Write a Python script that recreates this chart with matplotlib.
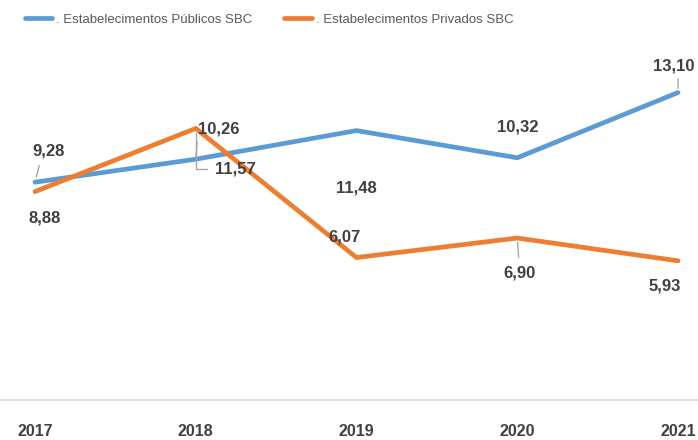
import matplotlib.pyplot as plt

years = [2017, 2018, 2019, 2020, 2021]
publicos = [9.28, 10.26, 11.48, 10.32, 13.10]
privados = [8.88, 11.57, 6.07, 6.90, 5.93]
labels_pub = ['9,28', '10,26', '11,48', '10,32', '13,10']
labels_priv = ['8,88', '11,57', '6,07', '6,90', '5,93']

blue = '#5B9BD5'
orange = '#ED7D31'
txt = '#404040'
font = ['Liberation Sans', 'DejaVu Sans']

# label offsets in pixels (dx, dy)
off_pub = [(14, 31), (23, 30), (0, -57), (0, 31), (-4, 27)]
off_priv = [(10, -26), (40, -41), (-12, 21), (2, -35), (-13, -25)]

fig = plt.figure(figsize=(6.98, 4.4), dpi=100)
ax = fig.add_axes([0, 40 / 440, 1, 400 / 440])

ax.plot(years, publicos, color=blue, lw=3.4, solid_capstyle='round',
        solid_joinstyle='miter', label='. Estabelecimentos Públicos SBC', zorder=3)
ax.plot(years, privados, color=orange, lw=3.4, solid_capstyle='round',
        solid_joinstyle='miter', label='. Estabelecimentos Privados SBC', zorder=3)

ax.set_xlim(2017 - 35 / 160.75, 2021 + 20 / 160.75)
ax.set_ylim(0, 400 / 23.47)

for spine in ['top', 'right', 'left']:
    ax.spines[spine].set_visible(False)
ax.spines['bottom'].set_color('#d9d9d9')
ax.spines['bottom'].set_linewidth(1.2)
ax.set_yticks([])
ax.set_xticks(years)
ax.set_xticklabels([str(y) for y in years], fontsize=11.5, fontweight='bold',
                   color=txt, family=font)
ax.tick_params(axis='x', length=0, pad=17)

def px(d):
    return (d[0] * 0.72, d[1] * 0.72)

leader = dict(arrowstyle='-', color='#a6a6a6', lw=1)

for i, (x, v) in enumerate(zip(years, publicos)):
    ap = None
    if i == 0:
        ap = dict(leader, relpos=(0.25, 0), shrinkA=3, shrinkB=4)
    elif i == 1:
        ap = dict(leader, relpos=(0, 0.3), shrinkA=2, shrinkB=2)
    elif i == 4:
        ap = dict(leader, relpos=(0.6, 0), shrinkA=2, shrinkB=3)
    ax.annotate(labels_pub[i], (x, v), xytext=px(off_pub[i]), textcoords='offset points',
                ha='center', va='center', fontsize=12, fontweight='bold', color=txt,
                family=font, arrowprops=ap, zorder=4)

for i, (x, v) in enumerate(zip(years, privados)):
    ap = None
    if i == 1:
        ap = dict(leader, relpos=(0, 0.5), shrinkA=4, shrinkB=3,
                  connectionstyle='angle,angleA=0,angleB=90,rad=0')
    elif i == 3:
        ap = dict(leader, relpos=(0.5, 1), shrinkA=4, shrinkB=3)
    ax.annotate(labels_priv[i], (x, v), xytext=px(off_priv[i]), textcoords='offset points',
                ha='center', va='center', fontsize=12, fontweight='bold', color=txt,
                family=font, arrowprops=ap, zorder=4)

fig.legend(loc='center', bbox_to_anchor=(269 / 698, 1 - 20 / 440), ncol=2, frameon=False,
           prop={'family': font, 'size': 9.5}, labelcolor='#595959',
           handlelength=2.1, handletextpad=0.3, columnspacing=2.4)

fig.savefig('out.png', dpi=100)
